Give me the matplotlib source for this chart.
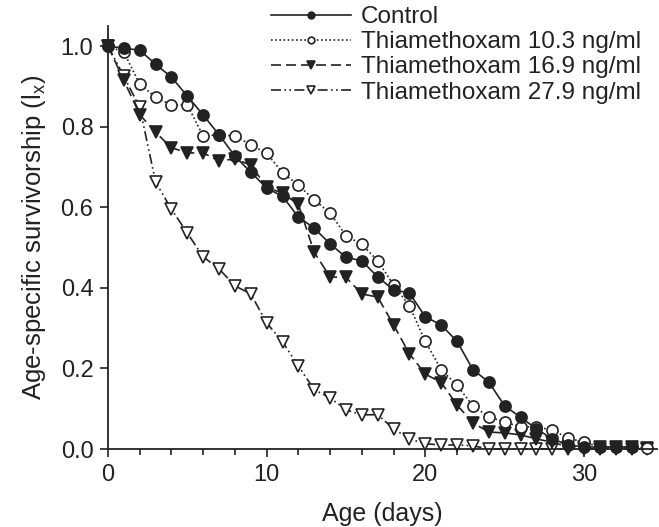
import numpy as np
import matplotlib
matplotlib.use('Agg')
import matplotlib.pyplot as plt
from matplotlib.ticker import MultipleLocator

plt.rcParams['font.family'] = ['Liberation Sans', 'DejaVu Sans']

# data (l_x by day)
days = list(range(35))
control = [1.0, 0.995, 0.99, 0.955, 0.923, 0.876, 0.829, 0.78, 0.727, 0.687,
           0.648, 0.627, 0.576, 0.548, 0.509, 0.476, 0.467, 0.427, 0.395, 0.387,
           0.328, 0.308, 0.267, 0.197, 0.166, 0.107, 0.079, 0.05, 0.025, 0.01,
           0.005, 0.005, 0.005, 0.005]
thia_103 = [1.0, 0.985, 0.906, 0.873, 0.854, 0.854, 0.777, 0.78, 0.777, 0.755,
            0.734, 0.686, 0.655, 0.618, 0.586, 0.529, 0.508, 0.467, 0.407, 0.355,
            0.267, 0.197, 0.158, 0.107, 0.08, 0.067, 0.055, 0.055, 0.047, 0.027,
            0.017, 0.005, 0.005, 0.005, 0.002]
thia_169 = [1.0, 0.915, 0.83, 0.786, 0.748, 0.735, 0.735, 0.715, 0.72, 0.705,
            0.65, 0.635, 0.607, 0.488, 0.427, 0.426, 0.385, 0.377, 0.308, 0.236,
            0.186, 0.165, 0.109, 0.065, 0.042, 0.04, 0.035, 0.025, 0.017, 0.005,
            0.005, 0.005, 0.005, 0.005, 0.003]
thia_279 = [1.0, 0.925, 0.848, 0.663, 0.595, 0.536, 0.477, 0.447, 0.405, 0.385,
            0.313, 0.266, 0.206, 0.147, 0.127, 0.097, 0.085, 0.085, 0.05, 0.025,
            0.013, 0.01, 0.01, 0.008, 0.0, 0.0, 0.0, 0.0, 0.0, 0.0,
            0.0, 0.0, 0.0, 0.0, 0.0]

labels = ['Control', 'Thiamethoxam 10.3 ng/ml', 'Thiamethoxam 16.9 ng/ml',
          'Thiamethoxam 27.9 ng/ml']

ink = '#222222'
fig = plt.figure(figsize=(6.59, 5.27), dpi=100)
ax = fig.add_axes([108/659, 1-449/527, 549/659, 423/527])

series = [control, thia_103, thia_169, thia_279]
styles = [
    dict(ls='-', marker='o', mfc=ink, ms=8),
    dict(ls=(0, (1, 1.5)), marker='o', mfc='white', ms=8),
    dict(ls=(0, (6, 3)), marker='v', mfc=ink, ms=8.5),
    dict(ls=(0, (6, 2, 1, 2, 1, 2)), marker='v', mfc='white', ms=8.5),
]
# draw from last to first so control sits on top
handles = [None]*4
for i in [3, 2, 1, 0]:
    y = series[i]
    h, = ax.plot(days[:len(y)], y, color=ink, lw=1.2, mec=ink, mew=1.2,
                 label=labels[i], clip_on=False, **styles[i])
    handles[i] = h

ax.set_xlim(0, 34.6)
ax.set_ylim(0, 1.05)
ax.xaxis.set_major_locator(MultipleLocator(10))
ax.xaxis.set_minor_locator(MultipleLocator(2))
ax.set_yticks([0, 0.2, 0.4, 0.6, 0.8, 1.0])
ax.set_yticklabels(['0.0', '0.2', '0.4', '0.6', '0.8', '1.0'])
ax.tick_params(axis='both', which='major', direction='out', length=5.5, width=1.2,
               color=ink, labelsize=17, labelcolor=ink, pad=5)
ax.tick_params(axis='x', which='minor', direction='out', length=4, width=1.2, color=ink)
for s in ['top', 'right']:
    ax.spines[s].set_visible(False)
for s in ['left', 'bottom']:
    ax.spines[s].set_linewidth(1.3)
    ax.spines[s].set_color(ink)

ax.set_xlabel('Age (days)', fontsize=18, color=ink, labelpad=12)
ax.set_ylabel('Age-specific survivorship (l$_\\mathregular{x}$)', fontsize=18.5,
              color=ink, labelpad=9)

fig.legend(handles=handles, labels=labels, loc='upper left',
           bbox_to_anchor=(271/659, 1-6/527), frameon=False, fontsize=17.5,
           handlelength=3.3, handletextpad=0.4, labelspacing=0.13,
           markerscale=0.6, borderpad=0, borderaxespad=0, labelcolor=ink)

fig.savefig('out.png', dpi=100)
